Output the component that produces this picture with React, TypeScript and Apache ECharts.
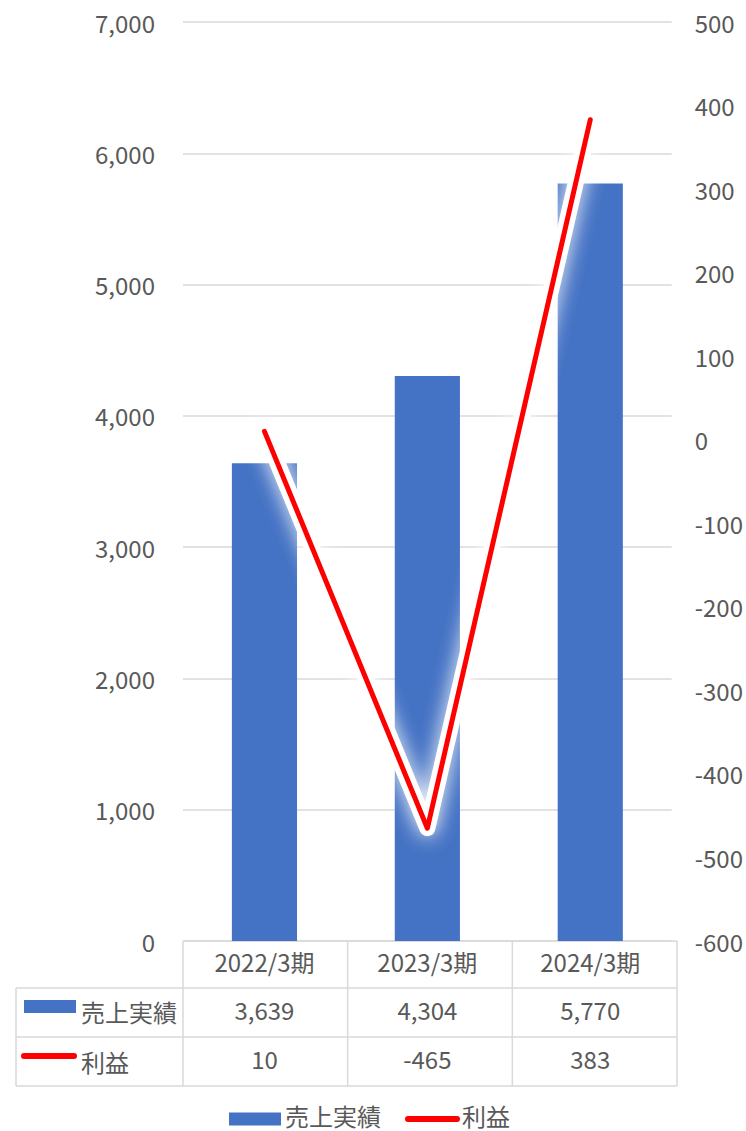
import React, { useEffect, useRef } from "react";
import * as echarts from "echarts";

// Fiscal periods and results
const categories = ["2022/3期", "2023/3期", "2024/3期"];
const seriesNames = ["売上実績", "利益"];
const salesValues = [3639, 4304, 5770];
const profitValues = [10, -465, 383];

// Axis scales
const salesAxis = { min: 0, max: 7000, interval: 1000 };
const profitAxis = { min: -600, max: 500, interval: 100 };

const W = 746;
const H = 1131;
const GRID = { left: 183, right: 69, top: 22, bottom: 190 };
const FONT = "'Noto Sans CJK JP', 'Noto Sans', sans-serif";
const TEXT = "#595959";
const RULE = "#d9d9d9";
const BLUE = "#4472C4";
const RED = "#FF0000";

const fmt = (v: number) => v.toLocaleString("en-US");

export default function App() {
  const ref = useRef<HTMLDivElement>(null);

  useEffect(() => {
    document.body.style.margin = "0";
    if (!ref.current) return;
    const chart = echarts.init(ref.current, null, { renderer: "svg" });

    const plotLeft = GRID.left;
    const plotRight = W - GRID.right;
    const axisY = H - GRID.bottom; // y of the category axis
    const tableLeft = 16;
    const rowH = [47, 49, 49];
    const row1 = axisY + rowH[0];
    const row2 = row1 + rowH[1];
    const row3 = row2 + rowH[2];
    const colW = (plotRight - plotLeft) / categories.length;

    const labelStyle = { color: TEXT, fontSize: 24, fontFamily: FONT };
    const rule = (x1: number, y1: number, x2: number, y2: number) => ({
      type: "line",
      shape: { x1, y1, x2, y2 },
      style: { stroke: RULE, lineWidth: 1.5 },
      silent: true,
    });
    const label = (x: number, y: number, text: string) => ({
      type: "text",
      x,
      y,
      style: {
        text,
        fill: TEXT,
        font: `24px ${FONT}`,
        lineHeight: 22,
        verticalAlign: "middle",
      },
      silent: true,
    });

    // Data-table value rows drawn as extra category axes below the plot
    const rowAxis = (offset: number, values: number[]) => ({
      type: "category",
      data: categories,
      position: "bottom",
      offset,
      axisLine: { show: false },
      axisTick: { show: false },
      axisLabel: {
        ...labelStyle,
        margin: 8,
        interval: 0,
        formatter: (_: string, i: number) => fmt(values[i]),
      },
    });

    // legend row centre
    const legendY = 1115;
    const legendIconY = 1119;

    chart.setOption({
      animation: false,
      backgroundColor: "#ffffff",
      grid: { ...GRID, containLabel: false },
      xAxis: [
        {
          type: "category",
          data: categories,
          boundaryGap: true,
          axisLine: { show: false },
          axisTick: { show: false },
          axisLabel: { ...labelStyle, margin: 8, interval: 0 },
        },
        rowAxis(rowH[0] + 1, salesValues),
        rowAxis(rowH[0] + rowH[1] + 1, profitValues),
      ],
      yAxis: [
        {
          type: "value",
          ...salesAxis,
          axisLine: { show: false },
          axisTick: { show: false },
          axisLabel: { ...labelStyle, margin: 28, formatter: (v: number) => fmt(v) },
          splitLine: { lineStyle: { color: RULE, width: 1.5 } },
        },
        {
          type: "value",
          ...profitAxis,
          position: "right",
          axisLine: { show: false },
          axisTick: { show: false },
          axisLabel: { ...labelStyle, margin: 23 },
          splitLine: { show: false },
        },
      ],
      series: [
        {
          name: seriesNames[0],
          type: "bar",
          data: salesValues,
          barWidth: "40%",
          itemStyle: { color: BLUE },
          z: 2,
        },
        {
          // soft white halo under the profit line
          name: seriesNames[1] + "-halo",
          type: "line",
          yAxisIndex: 1,
          data: profitValues,
          symbol: "none",
          silent: true,
          lineStyle: {
            color: "rgba(255,255,255,1)",
            width: 16,
            cap: "round",
            join: "round",
            shadowColor: "rgba(255,255,255,1)",
            shadowBlur: 20,
          },
          z: 3,
        },
        {
          name: seriesNames[1],
          type: "line",
          yAxisIndex: 1,
          data: profitValues,
          symbol: "none",
          lineStyle: { color: RED, width: 5, cap: "round", join: "round" },
          itemStyle: { color: RED },
          z: 4,
        },
      ],
      graphic: [
        // data-table rules
        rule(plotLeft, axisY, plotRight, axisY),
        ...[row1, row2, row3].map((y) => rule(tableLeft, y, plotRight, y)),
        rule(tableLeft, row1, tableLeft, row3),
        ...[0, 1, 2, 3].map((k) =>
          rule(plotLeft + k * colW, axisY, plotLeft + k * colW, row3)
        ),
        // row keys
        {
          type: "rect",
          shape: { x: 24, y: row1 + 12, width: 52, height: 13 },
          style: { fill: BLUE },
          silent: true,
        },
        {
          type: "line",
          shape: { x1: 24, y1: row2 + 19, x2: 74, y2: row2 + 19 },
          style: { stroke: RED, lineWidth: 6, lineCap: "round" },
          silent: true,
        },
        label(81, row1 + 23, seriesNames[0]),
        label(81, row2 + 24, seriesNames[1]),
        // legend
        {
          type: "rect",
          shape: { x: 229, y: legendIconY - 6.5, width: 52, height: 13 },
          style: { fill: BLUE },
          silent: true,
        },
        label(285, legendY, seriesNames[0]),
        {
          type: "line",
          shape: { x1: 408, y1: legendIconY, x2: 457, y2: legendIconY },
          style: { stroke: RED, lineWidth: 6, lineCap: "round" },
          silent: true,
        },
        label(462, legendY, seriesNames[1]),
      ],
    });

    return () => chart.dispose();
  }, []);

  return <div ref={ref} style={{ width: W, height: H }} />;
}
